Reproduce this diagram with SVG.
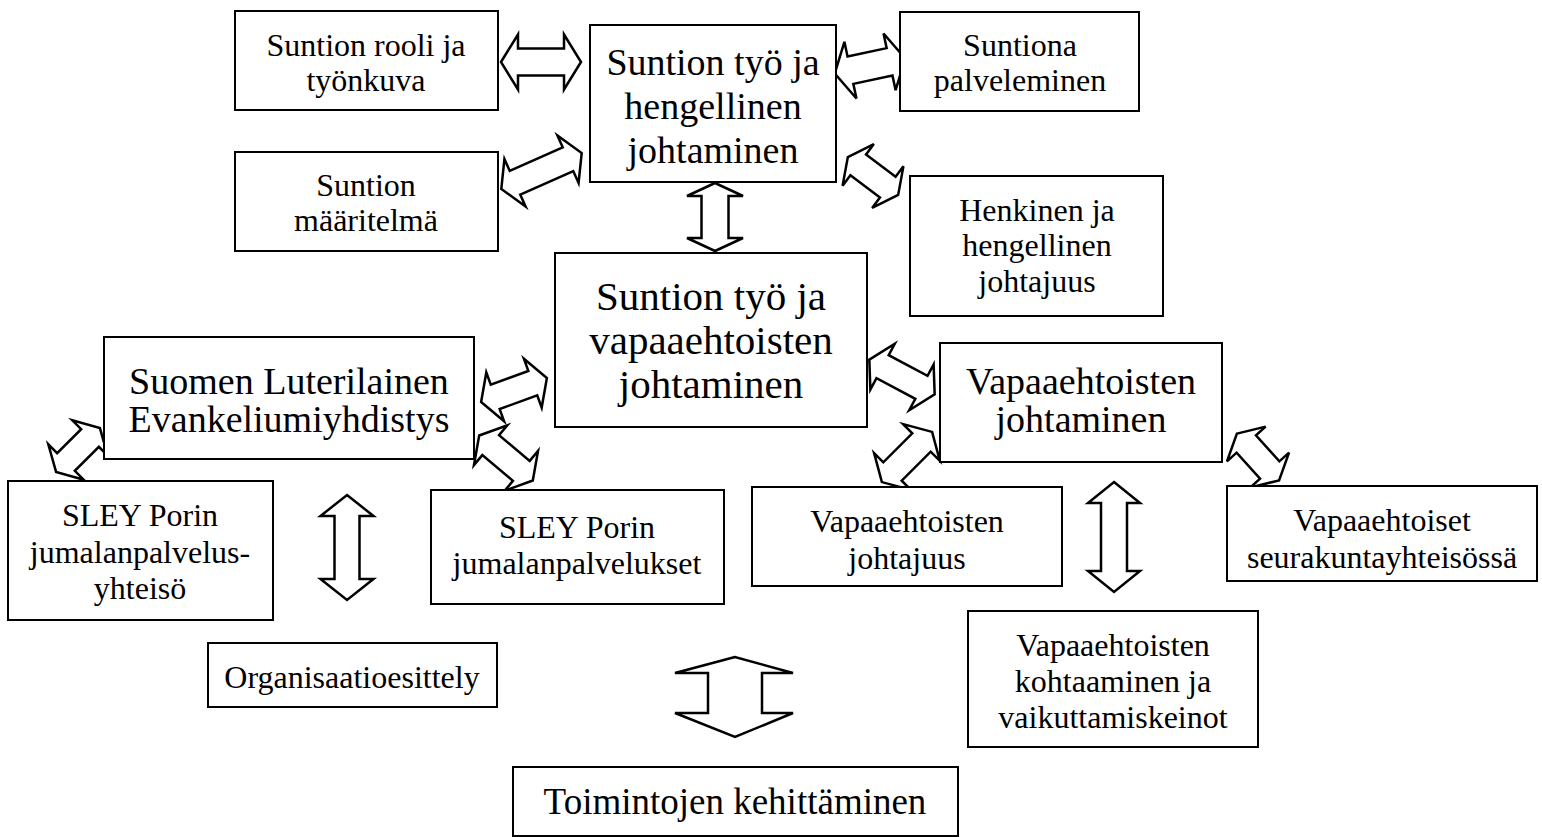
<svg xmlns="http://www.w3.org/2000/svg" width="1542" height="837" viewBox="0 0 1542 837">
<style>
.box{fill:#fff;stroke:#000;stroke-width:2}
.t{font-family:"Liberation Serif","Times New Roman",serif;fill:#000;text-anchor:middle}
.s{font-size:32px}
.b{font-size:38px}
.m{font-size:38px}
.arr{fill:#fff;stroke:#000;stroke-width:2.5;stroke-linejoin:miter}
</style>
<rect width="1542" height="837" fill="#fff"/>
<g id="connectors">
<path class="arr" transform="translate(541,62)" d="M-40,0 L-23,-27.5 L-23,-13.5 L23,-13.5 L23,-27.5 L40,0 L23,27.5 L23,13.5 L-23,13.5 L-23,27.5Z"/>
<path class="arr" transform="translate(541.5,171) rotate(-24)" d="M-44,0 L-29,-26 L-29,-13 L29,-13 L29,-26 L44,0 L29,26 L29,13 L-29,13 L-29,26Z"/>
<path class="arr" transform="translate(870,66) rotate(-12)" d="M-36,0 L-20,-29 L-20,-14 L20,-14 L20,-29 L36,0 L20,29 L20,14 L-20,14 L-20,29Z"/>
<path class="arr" transform="translate(873,176) rotate(37)" d="M-31.5,0 L-18.5,-26 L-18.5,-13 L18.5,-13 L18.5,-26 L31.5,0 L18.5,26 L18.5,13 L-18.5,13 L-18.5,26Z"/>
<path class="arr" transform="translate(715,217) rotate(90)" d="M-34,0 L-21,-28 L-21,-13.5 L21,-13.5 L21,-28 L34,0 L21,28 L21,13.5 L-21,13.5 L-21,28Z"/>
<path class="arr" transform="translate(514,390) rotate(-20)" d="M-35,0 L-20,-26 L-20,-13 L20,-13 L20,-26 L35,0 L20,26 L20,13 L-20,13 L-20,26Z"/>
<path class="arr" transform="translate(506,458) rotate(40)" d="M-35,0 L-20,-26 L-20,-13 L20,-13 L20,-26 L35,0 L20,26 L20,13 L-20,13 L-20,26Z"/>
<path class="arr" transform="translate(902,377) rotate(28)" d="M-37,0 L-22,-26 L-22,-13 L22,-13 L22,-26 L37,0 L22,26 L22,13 L-22,13 L-22,26Z"/>
<path class="arr" transform="translate(78,450) rotate(-45)" d="M-31,0 L-17,-25 L-17,-12.5 L17,-12.5 L17,-25 L31,0 L17,25 L17,12.5 L-17,12.5 L-17,25Z"/>
<path class="arr" transform="translate(907,457) rotate(-45)" d="M-35.5,0 L-20.5,-26 L-20.5,-13 L20.5,-13 L20.5,-26 L35.5,0 L20.5,26 L20.5,13 L-20.5,13 L-20.5,26Z"/>
<path class="arr" transform="translate(1258,457) rotate(48)" d="M-31.5,0 L-17.5,-26 L-17.5,-13 L17.5,-13 L17.5,-26 L31.5,0 L17.5,26 L17.5,13 L-17.5,13 L-17.5,26Z"/>
<path class="arr" transform="translate(347,547.5) rotate(90)" d="M-52.5,0 L-31.5,-26.5 L-31.5,-12.5 L31.5,-12.5 L31.5,-26.5 L52.5,0 L31.5,26.5 L31.5,12.5 L-31.5,12.5 L-31.5,26.5Z"/>
<path class="arr" transform="translate(1114,537) rotate(90)" d="M-55,0 L-34,-26 L-34,-13 L34,-13 L34,-26 L55,0 L34,26 L34,13 L-34,13 L-34,26Z"/>
<path class="arr" d="M735,657 L675,673 L708,673 L708,713 L675,713 L735,737 L793,713 L762,713 L762,673 L793,673 Z"/>
</g>
<g id="n1"><rect class="box" x="235" y="11" width="263" height="99"/><text class="t s" x="366" y="56">Suntion rooli ja</text><text class="t s" x="366" y="91">työnkuva</text></g>
<g id="n2"><rect class="box" x="590" y="25" width="246" height="157"/><text class="t b" x="713" y="75">Suntion työ ja</text><text class="t b" x="713" y="119">hengellinen</text><text class="t b" x="713" y="163">johtaminen</text></g>
<g id="n3"><rect class="box" x="900" y="12" width="239" height="99"/><text class="t s" x="1020" y="56">Suntiona</text><text class="t s" x="1020" y="91">palveleminen</text></g>
<g id="n4"><rect class="box" x="235" y="152" width="263" height="99"/><text class="t s" x="366" y="196">Suntion</text><text class="t s" x="366" y="231">määritelmä</text></g>
<g id="n5"><rect class="box" x="910" y="176" width="253" height="140"/><text class="t s" x="1037" y="221">Henkinen ja</text><text class="t s" x="1037" y="256">hengellinen</text><text class="t s" x="1037" y="292">johtajuus</text></g>
<g id="n6"><rect class="box" x="555" y="253" width="312" height="174"/><text class="t" style="font-size:41px" x="711" y="310">Suntion työ ja</text><text class="t" style="font-size:41px" x="711" y="354">vapaaehtoisten</text><text class="t" style="font-size:41px" x="711" y="398">johtaminen</text></g>
<g id="n7"><rect class="box" x="104" y="337" width="370" height="122"/><text class="t m" x="289" y="394">Suomen Luterilainen</text><text class="t m" x="289" y="432">Evankeliumiyhdistys</text></g>
<g id="n8"><rect class="box" x="940" y="343" width="282" height="119"/><text class="t m" x="1081" y="394">Vapaaehtoisten</text><text class="t m" x="1081" y="432">johtaminen</text></g>
<g id="n9"><rect class="box" x="8" y="481" width="265" height="139"/><text class="t s" x="140" y="526">SLEY Porin</text><text class="t s" x="140" y="563">jumalanpalvelus-</text><text class="t s" x="140" y="599">yhteisö</text></g>
<g id="n10"><rect class="box" x="431" y="490" width="293" height="114"/><text class="t s" x="577" y="538">SLEY Porin</text><text class="t s" x="577" y="574">jumalanpalvelukset</text></g>
<g id="n11"><rect class="box" x="752" y="487" width="310" height="99"/><text class="t s" x="907" y="532">Vapaaehtoisten</text><text class="t s" x="907" y="569">johtajuus</text></g>
<g id="n12"><rect class="box" x="1227" y="486" width="310" height="95"/><text class="t s" x="1382" y="531">Vapaaehtoiset</text><text class="t s" x="1382" y="568">seurakuntayhteisössä</text></g>
<g id="n13"><rect class="box" x="208" y="643" width="289" height="64"/><text class="t s" x="352" y="688">Organisaatioesittely</text></g>
<g id="n14"><rect class="box" x="968" y="611" width="290" height="136"/><text class="t s" x="1113" y="656">Vapaaehtoisten</text><text class="t s" x="1113" y="692">kohtaaminen ja</text><text class="t s" x="1113" y="728">vaikuttamiskeinot</text></g>
<g id="n15"><rect class="box" x="513" y="767" width="445" height="69"/><text class="t" style="font-size:37px" x="735" y="814">Toimintojen kehittäminen</text></g>
</svg>
